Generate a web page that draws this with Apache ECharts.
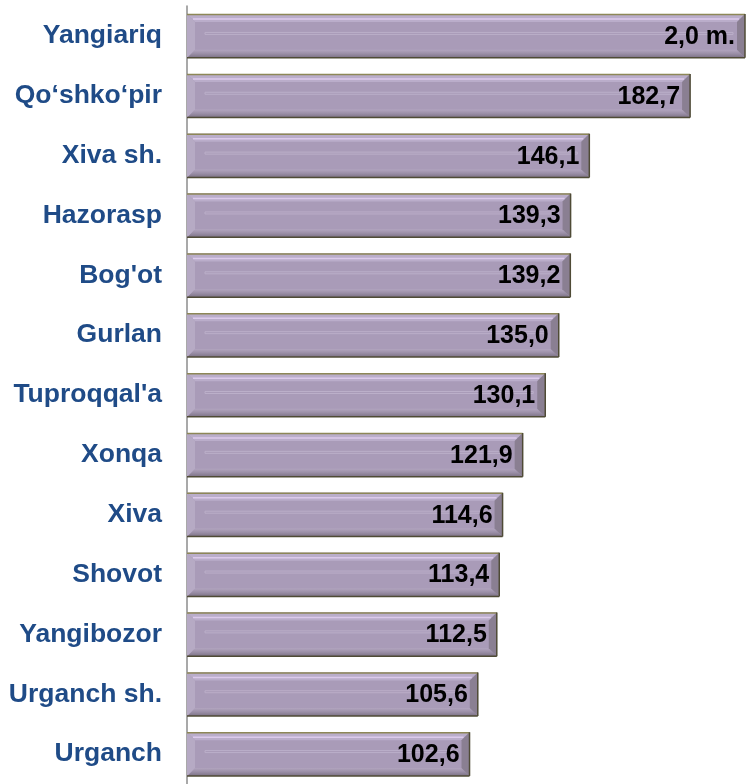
<!DOCTYPE html>
<html>
<head>
<meta charset="utf-8">
<script src="https://cdn.jsdelivr.net/npm/echarts@6/dist/echarts.min.js"></script>
<style>
  html, body { margin: 0; padding: 0; background: #fff; }
  #chart { width: 746px; height: 784px; }
</style>
</head>
<body>
<div id="chart"></div>
<script>
const categories = ['Yangiariq', 'Qo‘shko‘pir', 'Xiva sh.', 'Hazorasp', "Bog'ot", 'Gurlan', "Tuproqqal'a",
  'Xonqa', 'Xiva', 'Shovot', 'Yangibozor', 'Urganch sh.', 'Urganch'];
// thousand; Yangiariq is 2.0 million and runs off the axis
const values = [2000, 182.7, 146.1, 139.3, 139.2, 135.0, 130.1, 121.9, 114.6, 113.4, 112.5, 105.6, 102.6];
const valueLabels = ['2,0 m.', '182,7', '146,1', '139,3', '139,2', '135,0', '130,1', '121,9', '114,6',
  '113,4', '112,5', '105,6', '102,6'];

const chart = echarts.init(document.getElementById('chart'), null, { renderer: 'canvas' });

// beveled bar drawn from the axis coordinates
function renderBar(params, api) {
  const idx = api.value(0);
  const v = api.value(1);
  const cs = params.coordSys;
  const start = api.coord([0, idx]);
  const end = api.coord([v, idx]);
  const band = api.size([0, 1])[1];
  const h = band * 0.73;
  const x0 = start[0];
  const x1 = Math.min(end[0], cs.x + cs.width - 1);
  const y0 = start[1] - h / 2;
  const y1 = y0 + h;
  const b = 8;
  const w = x1 - x0;

  return {
    type: 'group',
    children: [
      { type: 'rect', shape: { x: x0, y: y0, width: w, height: h }, style: { fill: '#a99bb8' } },
      { type: 'polygon', shape: { points: [[x0, y0], [x1, y0], [x1 - b, y0 + b], [x0 + b, y0 + b]] },
        style: { fill: '#baadca' } },
      { type: 'polygon', shape: { points: [[x0, y1], [x1, y1], [x1 - b, y1 - b], [x0 + b, y1 - b]] },
        style: { fill: new echarts.graphic.LinearGradient(0, 0, 0, 1, [
          { offset: 0, color: '#b2a5bf' }, { offset: 0.5, color: '#9a8ea6' }, { offset: 1, color: '#7c7285' }]) } },
      { type: 'polygon', shape: { points: [[x0, y0], [x0 + b, y0 + b], [x0 + b, y1 - b], [x0, y1]] },
        style: { fill: '#b6aac4' } },
      { type: 'polygon', shape: { points: [[x1, y0], [x1, y1], [x1 - b, y1 - b], [x1 - b, y0 + b]] },
        style: { fill: '#8a7f92' } },
      { type: 'line', shape: { x1: x0 + 6, y1: y0 + 5, x2: x1 - 6, y2: y0 + 5 },
        style: { stroke: '#dccbeb', lineWidth: 1.5 } },
      { type: 'rect', shape: { x: x0 + 18, y: y0 + h * 0.42, width: Math.max(w - 30, 0), height: 2 },
        style: { fill: 'none', stroke: '#bbafc9', lineWidth: 1 } },
      { type: 'line', shape: { x1: x0, y1: y0 + 0.5, x2: x1, y2: y0 + 0.5 },
        style: { stroke: '#8d8757', lineWidth: 1.5 } },
      { type: 'line', shape: { x1: x0, y1: y1, x2: x1, y2: y1 },
        style: { stroke: '#4f4b36', lineWidth: 1.5 } },
      { type: 'line', shape: { x1: x1, y1: y0, x2: x1, y2: y1 },
        style: { stroke: '#4f4b36', lineWidth: 1.5 } },
      { type: 'text', x: x1 - 10, y: start[1] + 1,
        style: { text: valueLabels[idx], align: 'right', verticalAlign: 'middle',
          fill: '#000', font: 'bold 25px "Liberation Sans", Arial, sans-serif' } }
    ]
  };
}

chart.setOption({
  animation: false,
  backgroundColor: '#fff',
  grid: { left: 187, right: 0, top: 6, height: 784 },
  xAxis: {
    type: 'value',
    min: 0,
    max: 203,
    show: false
  },
  yAxis: {
    type: 'category',
    data: categories,
    inverse: true,
    axisTick: { show: false },
    axisLine: { lineStyle: { color: '#8c8c8c', width: 1.5 } },
    axisLabel: {
      margin: 25,
      color: '#1f4b87',
      fontWeight: 'bold',
      fontSize: 26.5,
      fontFamily: '"Liberation Sans", Arial, sans-serif'
    }
  },
  series: [
    {
      type: 'custom',
      renderItem: renderBar,
      encode: { x: 1, y: 0 },
      data: values.map((v, i) => [i, v])
    }
  ]
});
</script>
</body>
</html>
